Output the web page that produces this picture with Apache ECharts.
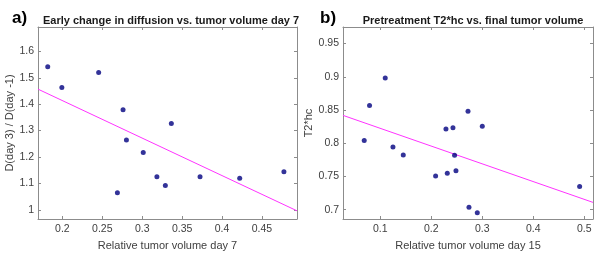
<!DOCTYPE html>
<html>
<head>
<meta charset="utf-8">
<script src="https://cdn.jsdelivr.net/npm/echarts@6/dist/echarts.min.js"></script>
<style>
  html, body { margin: 0; padding: 0; background: #fff; }
  #chart { width: 603px; height: 260px; }
</style>
</head>
<body>
<div id="chart"></div>
<script>
// panel a) relative tumor volume day 7 vs. diffusion ratio
const volDay7 = [0.1816, 0.1993, 0.2454, 0.276, 0.3365, 0.2802, 0.3013, 0.2689, 0.3184, 0.329, 0.3725, 0.4222, 0.4776];
const diffRatio = [1.542, 1.4635, 1.520, 1.379, 1.327, 1.264, 1.217, 1.064, 1.125, 1.092, 1.125, 1.119, 1.144];
const fitAX = [0.1694, 0.494];
const fitAY = [1.457, 0.996];
const ticksAX = [0.2, 0.25, 0.3, 0.35, 0.4, 0.45];
const ticksAY = [1, 1.1, 1.2, 1.3, 1.4, 1.5, 1.6];

// panel b) relative tumor volume day 15 vs. pretreatment T2*hc
const volDay15 = [0.079, 0.1098, 0.272, 0.2288, 0.2425, 0.3, 0.0686, 0.1249, 0.1451, 0.2457, 0.2085, 0.2314, 0.2484, 0.2739, 0.2902, 0.4908];
const t2hc = [0.857, 0.8983, 0.848, 0.8215, 0.8235, 0.8255, 0.804, 0.7944, 0.7823, 0.7818, 0.7507, 0.7547, 0.7587, 0.7035, 0.6955, 0.7351];
const fitBX = [0.027, 0.517];
const fitBY = [0.842, 0.711];
const ticksBX = [0.1, 0.2, 0.3, 0.4, 0.5];
const ticksBY = [0.7, 0.75, 0.8, 0.85, 0.9, 0.95];

const zip = (xs, ys) => xs.map((x, i) => [x, ys[i]]);

const axisColor = '#8c8c8c';
const labelColor = '#404040';
const font = 'Liberation Sans, Arial, sans-serif';

function mainAxis(type, gridIndex, min, max, ticks, name, extra) {
    return Object.assign({
        type: 'value',
        gridIndex: gridIndex,
        min: min,
        max: max,
        name: name,
        nameLocation: 'middle',
        nameTextStyle: { color: labelColor, fontSize: 11, fontFamily: font },
        axisLine: { show: true, onZero: false, lineStyle: { color: axisColor, width: 1 } },
        axisTick: { show: true, inside: true, length: 3, customValues: ticks, lineStyle: { color: axisColor } },
        axisLabel: {
            show: true, customValues: ticks, color: labelColor, fontSize: 10.5, fontFamily: font,
            margin: type === 'x' ? 5 : 4,
            formatter: (v) => String(v)
        },
        splitLine: { show: false }
    }, extra || {});
}

// top / right edges of the box, ticks only
function boxAxis(gridIndex, min, max, ticks, position) {
    return {
        type: 'value',
        gridIndex: gridIndex,
        min: min,
        max: max,
        position: position,
        axisLine: { show: true, onZero: false, lineStyle: { color: axisColor, width: 1 } },
        axisTick: { show: true, inside: true, length: 3, customValues: ticks, lineStyle: { color: axisColor } },
        axisLabel: { show: false },
        splitLine: { show: false }
    };
}

const chart = echarts.init(document.getElementById('chart'));

chart.setOption({
    animation: false,
    backgroundColor: '#fff',
    title: [
        { text: 'a)', left: 7, top: 5, textStyle: { fontSize: 17, fontWeight: 'bold', color: '#000', fontFamily: font } },
        { text: 'Early change in diffusion vs. tumor volume day 7', left: 166, top: 10, textAlign: 'center',
          textStyle: { fontSize: 11, fontWeight: 'bold', color: '#1a1a1a', fontFamily: font } },
        { text: 'b)', left: 315, top: 5, textStyle: { fontSize: 17, fontWeight: 'bold', color: '#000', fontFamily: font } },
        { text: 'Pretreatment T2*hc vs. final tumor volume', left: 468, top: 10, textAlign: 'center',
          textStyle: { fontSize: 11, fontWeight: 'bold', color: '#1a1a1a', fontFamily: font } }
    ],
    grid: [
        { left: 38, top: 27, width: 259, height: 192 },
        { left: 343, top: 27, width: 250, height: 192 }
    ],
    xAxis: [
        mainAxis('x', 0, 0.1694, 0.494, ticksAX, 'Relative tumor volume day 7', { position: 'bottom', nameGap: 21 }),
        boxAxis(0, 0.1694, 0.494, ticksAX, 'top'),
        mainAxis('x', 1, 0.027, 0.517, ticksBX, 'Relative tumor volume day 15', { position: 'bottom', nameGap: 21 }),
        boxAxis(1, 0.027, 0.517, ticksBX, 'top')
    ],
    yAxis: [
        mainAxis('y', 0, 0.965, 1.6925, ticksAY, 'D(day 3) / D(day -1)', { position: 'left', nameGap: 21 }),
        boxAxis(0, 0.965, 1.6925, ticksAY, 'right'),
        mainAxis('y', 1, 0.686, 0.975, ticksBY, 'T2*hc', { position: 'left', nameGap: 26 }),
        boxAxis(1, 0.686, 0.975, ticksBY, 'right')
    ],
    series: [
        {
            type: 'line', xAxisIndex: 0, yAxisIndex: 0, data: zip(fitAX, fitAY),
            showSymbol: false, lineStyle: { color: '#ff33ff', width: 1 }, z: 1
        },
        {
            type: 'scatter', xAxisIndex: 0, yAxisIndex: 0, data: zip(volDay7, diffRatio),
            symbolSize: 5, itemStyle: { color: '#000080' }, z: 2
        },
        {
            type: 'line', xAxisIndex: 2, yAxisIndex: 2, data: zip(fitBX, fitBY),
            showSymbol: false, lineStyle: { color: '#ff33ff', width: 1 }, z: 1
        },
        {
            type: 'scatter', xAxisIndex: 2, yAxisIndex: 2, data: zip(volDay15, t2hc),
            symbolSize: 5, itemStyle: { color: '#000080' }, z: 2
        }
    ]
});
</script>
</body>
</html>
